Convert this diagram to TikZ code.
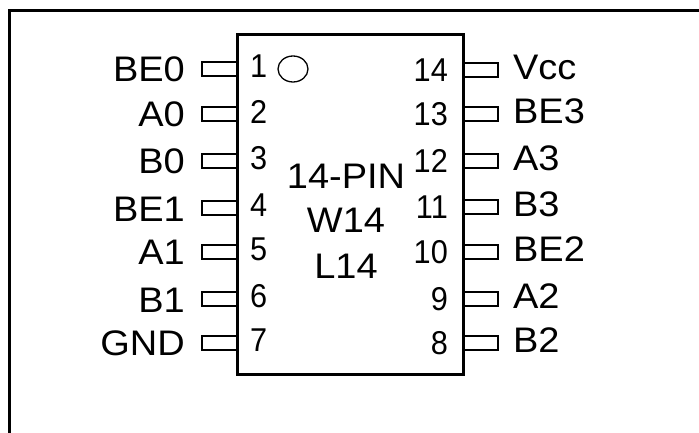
\documentclass[tikz,border=0pt]{standalone}
\usepackage{fontspec}
\setmainfont[FakeStretch=1.07]{Liberation Sans}
\newfontfamily\numfont[FakeStretch=0.93]{Liberation Sans}
\usetikzlibrary{positioning,shapes.geometric}

\begin{document}
\begin{tikzpicture}[x=1pt, y=-1pt,
    chip/.style={draw, line width=3pt, minimum width=226pt, minimum height=339pt, inner sep=0pt},
    pinbox/.style={draw, line width=1.9pt, minimum width=35pt, minimum height=14pt, inner sep=0pt},
    signal/.style={inner sep=0pt, font=\fontsize{35.5}{35.5}\selectfont},
    pinno/.style={inner sep=0pt, font=\numfont\fontsize{33}{33}\selectfont}]

  \useasboundingbox (0,0) rectangle (699,433);
  \draw[line width=3pt] (9.5,433) -- (9.5,10.5) -- (699,10.5);

  \node[chip] (body) at (350,204.5) {};

  % left row
  \foreach \n/\name/\ypin/\yname in {1/BE0/69/0, 2/A0/114/0, 3/B0/161/0, 4/BE1/208/-1,
      5/A1/252/0, 6/B1/299/-1, 7/GND/343/0}{
    \node[pinbox] (pin\n) at (219.5,\ypin) {};
    \node[signal, left=16pt of pin\n, yshift=\yname pt] (sig\n) {\name};
    \node[pinno, right=12pt of pin\n, yshift=2.5pt] (no\n) {\n};
  }

  % right row
  \foreach \n/\name/\ypin in {14/Vcc/70, 13/BE3/114, 12/A3/161, 11/B3/207,
      10/BE2/252, 9/A2/299, 8/B2/343}{
    \node[pinbox] (pin\n) at (480.5,\ypin) {};
    \node[signal, right=14pt of pin\n, yshift=3pt] (sig\n) {\name};
    \node[pinno, left=14pt of pin\n] (no\n) {\n};
  }

  \node[draw, line width=1.3pt, ellipse, minimum width=30pt, minimum height=26pt, inner sep=0pt] (notch) at (293,69) {};
  \node[signal] (pins) at (346,176) {14-PIN};
  \node[signal, below=19.5pt of pins] (wide) {W14};
  \node[signal, below=21pt of wide] (lead) {L14};
\end{tikzpicture}
\end{document}
